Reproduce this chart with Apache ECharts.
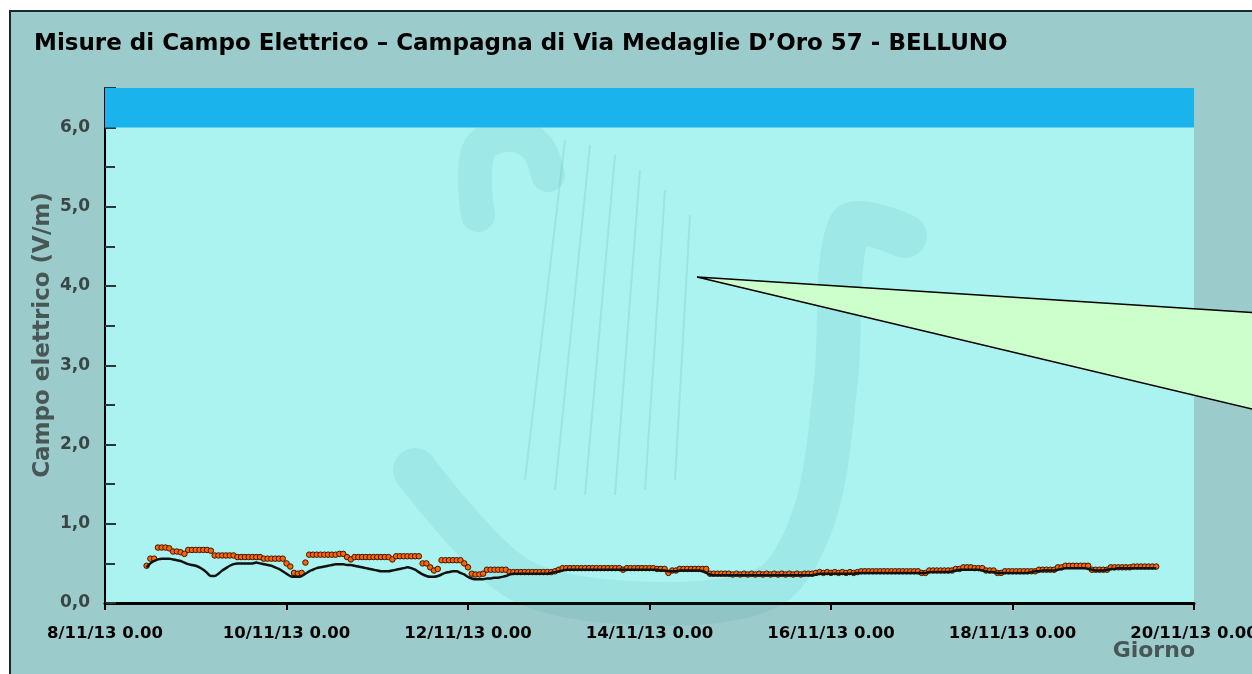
<!DOCTYPE html>
<html>
<head>
<meta charset="utf-8" />
<title>Campo Elettrico - Belluno</title>
<script src="https://cdn.jsdelivr.net/npm/echarts@6/dist/echarts.min.js"></script>
<style>
  html, body { margin: 0; padding: 0; background: #ffffff; }
  #chart { width: 1252px; height: 674px; }
</style>
</head>
<body>
<div id="chart"></div>
<script type="text/javascript">
// asse x in ore dal 8/11/13 0.00
var xTickLabels = ['8/11/13 0.00', '10/11/13 0.00', '12/11/13 0.00', '14/11/13 0.00',
    '16/11/13 0.00', '18/11/13 0.00', '20/11/13 0.00'];
var yTickLabels = ['0,0', '1,0', '2,0', '3,0', '4,0', '5,0', '6,0'];

// prima misura alle ore 11 del 8/11, poi una ogni ora
var firstHour = 11;

// misure (punti arancio), V/m
var misure = [
    0.47, 0.56, 0.56, 0.70, 0.70, 0.70, 0.69, 0.65, 0.65, 0.64,
    0.62, 0.67, 0.67, 0.67, 0.67, 0.67, 0.67, 0.66, 0.60, 0.60,
    0.60, 0.60, 0.60, 0.60, 0.58, 0.58, 0.58, 0.58, 0.58, 0.58,
    0.58, 0.56, 0.56, 0.56, 0.56, 0.56, 0.56, 0.50, 0.46, 0.38,
    0.37, 0.38, 0.51, 0.61, 0.61, 0.61, 0.61, 0.61, 0.61, 0.61,
    0.61, 0.62, 0.62, 0.58, 0.55, 0.58, 0.58, 0.58, 0.58, 0.58,
    0.58, 0.58, 0.58, 0.58, 0.58, 0.55, 0.59, 0.59, 0.59, 0.59,
    0.59, 0.59, 0.59, 0.50, 0.50, 0.45, 0.41, 0.43, 0.54, 0.54,
    0.54, 0.54, 0.54, 0.54, 0.50, 0.45, 0.37, 0.36, 0.36, 0.37,
    0.42, 0.42, 0.42, 0.42, 0.42, 0.42, 0.39, 0.39, 0.39, 0.39,
    0.39, 0.39, 0.39, 0.39, 0.39, 0.39, 0.39, 0.39, 0.40, 0.42,
    0.44, 0.44, 0.44, 0.44, 0.44, 0.44, 0.44, 0.44, 0.44, 0.44,
    0.44, 0.44, 0.44, 0.44, 0.44, 0.44, 0.42, 0.44, 0.44, 0.44,
    0.44, 0.44, 0.44, 0.44, 0.44, 0.43, 0.43, 0.43, 0.38, 0.41,
    0.41, 0.43, 0.43, 0.43, 0.43, 0.43, 0.43, 0.43, 0.43, 0.37,
    0.37, 0.37, 0.37, 0.37, 0.37, 0.36, 0.37, 0.36, 0.37, 0.36,
    0.37, 0.36, 0.37, 0.36, 0.37, 0.36, 0.37, 0.36, 0.37, 0.36,
    0.37, 0.36, 0.37, 0.36, 0.37, 0.37, 0.37, 0.38, 0.39, 0.38,
    0.39, 0.38, 0.39, 0.38, 0.39, 0.38, 0.39, 0.38, 0.39, 0.40,
    0.40, 0.40, 0.40, 0.40, 0.40, 0.40, 0.40, 0.40, 0.40, 0.40,
    0.40, 0.40, 0.40, 0.40, 0.40, 0.38, 0.38, 0.41, 0.41, 0.41,
    0.41, 0.41, 0.41, 0.41, 0.43, 0.43, 0.45, 0.45, 0.45, 0.44,
    0.44, 0.44, 0.41, 0.41, 0.41, 0.38, 0.38, 0.40, 0.40, 0.40,
    0.40, 0.40, 0.40, 0.40, 0.40, 0.40, 0.42, 0.42, 0.42, 0.42,
    0.42, 0.45, 0.45, 0.47, 0.47, 0.47, 0.47, 0.47, 0.47, 0.47,
    0.42, 0.42, 0.42, 0.42, 0.42, 0.45, 0.45, 0.45, 0.45, 0.45,
    0.45, 0.46, 0.46, 0.46, 0.46, 0.46, 0.46, 0.46
];

// andamento medio (linea nera), V/m
var media = [
    0.45, 0.50, 0.53, 0.55, 0.56, 0.56, 0.56, 0.55, 0.54, 0.53,
    0.51, 0.49, 0.48, 0.47, 0.45, 0.42, 0.38, 0.34, 0.34, 0.37,
    0.41, 0.44, 0.47, 0.49, 0.50, 0.50, 0.50, 0.50, 0.50, 0.51,
    0.50, 0.49, 0.48, 0.47, 0.45, 0.43, 0.40, 0.37, 0.34, 0.33,
    0.33, 0.34, 0.37, 0.40, 0.42, 0.44, 0.45, 0.46, 0.47, 0.48,
    0.49, 0.49, 0.49, 0.48, 0.48, 0.47, 0.46, 0.45, 0.44, 0.43,
    0.42, 0.41, 0.40, 0.40, 0.40, 0.41, 0.42, 0.43, 0.44, 0.45,
    0.44, 0.42, 0.39, 0.36, 0.34, 0.33, 0.33, 0.34, 0.36, 0.38,
    0.39, 0.40, 0.40, 0.38, 0.36, 0.33, 0.31, 0.30, 0.30, 0.30,
    0.31, 0.31, 0.32, 0.32, 0.33, 0.34, 0.36, 0.37, 0.37, 0.37,
    0.37, 0.37, 0.37, 0.37, 0.37, 0.37, 0.37, 0.38, 0.39, 0.40,
    0.41, 0.42, 0.42, 0.42, 0.42, 0.42, 0.42, 0.42, 0.42, 0.42,
    0.42, 0.42, 0.42, 0.42, 0.42, 0.42, 0.42, 0.42, 0.42, 0.42,
    0.42, 0.42, 0.42, 0.42, 0.42, 0.42, 0.41, 0.41, 0.40, 0.40,
    0.40, 0.41, 0.41, 0.41, 0.41, 0.41, 0.41, 0.40, 0.38, 0.36,
    0.35, 0.35, 0.35, 0.35, 0.35, 0.35, 0.35, 0.35, 0.35, 0.35,
    0.35, 0.35, 0.35, 0.35, 0.35, 0.35, 0.35, 0.35, 0.35, 0.35,
    0.35, 0.35, 0.35, 0.35, 0.35, 0.35, 0.35, 0.36, 0.37, 0.37,
    0.37, 0.37, 0.37, 0.37, 0.37, 0.37, 0.37, 0.37, 0.38, 0.38,
    0.38, 0.38, 0.38, 0.38, 0.38, 0.38, 0.38, 0.38, 0.38, 0.38,
    0.38, 0.38, 0.38, 0.38, 0.38, 0.38, 0.38, 0.39, 0.39, 0.39,
    0.39, 0.39, 0.39, 0.40, 0.41, 0.42, 0.42, 0.42, 0.42, 0.42,
    0.42, 0.41, 0.40, 0.39, 0.39, 0.38, 0.38, 0.38, 0.38, 0.38,
    0.38, 0.38, 0.38, 0.38, 0.39, 0.40, 0.40, 0.41, 0.41, 0.41,
    0.41, 0.42, 0.43, 0.44, 0.44, 0.44, 0.44, 0.44, 0.44, 0.43,
    0.42, 0.41, 0.41, 0.41, 0.42, 0.43, 0.43, 0.44, 0.44, 0.44,
    0.44, 0.44, 0.44, 0.44, 0.44, 0.44, 0.44, 0.44
];

var puntiMisure = [], puntiMedia = [];
for (var i = 0; i < misure.length; i++) {
    puntiMisure.push([firstHour + i, misure[i]]);
}
for (var j = 0; j < media.length; j++) {
    puntiMedia.push([firstHour + j, media[j]]);
}

var filigrana = 'rgba(0,110,110,0.07)';

// filigrana: arpa (corde)
var corde = [[565, 140, 525, 480], [590, 145, 555, 490], [615, 155, 585, 495],
    [640, 170, 615, 495], [665, 190, 645, 490], [690, 215, 675, 480]];

var grafica = [{
    type: 'rect',
    z: -10,
    shape: { x: 10, y: 11, width: 1260, height: 680 },
    style: { fill: '#9ccbcb', stroke: '#1b2828', lineWidth: 2 }
}, {
    type: 'text',
    left: 34,
    top: 33,
    style: {
        text: 'Misure di Campo Elettrico \u2013 Campagna di Via Medaglie D\u2019Oro 57 - BELLUNO',
        font: 'bold 23px "DejaVu Sans", sans-serif',
        fill: '#000000'
    }
}, {
    type: 'text',
    x: 43,
    y: 335,
    rotation: Math.PI / 2,
    style: {
        text: 'Campo elettrico (V/m)',
        font: 'bold 23px "DejaVu Sans", sans-serif',
        fill: '#485656',
        align: 'center',
        verticalAlign: 'middle'
    }
}, {
    type: 'text',
    x: 1195,
    y: 640,
    z: 50,
    style: {
        text: 'Giorno',
        font: 'bold 22px "DejaVu Sans", sans-serif',
        fill: '#485656',
        align: 'right',
        verticalAlign: 'top'
    }
}, {
    type: 'polyline',
    z: 1,
    silent: true,
    shape: {
        points: [[905, 236], [850, 226], [836, 380], [816, 510], [772, 585], [660, 604], [520, 580], [415, 470]],
        smooth: 0.3
    },
    style: { fill: 'none', stroke: filigrana, lineWidth: 44, lineCap: 'round', lineJoin: 'round' }
}, {
    type: 'polyline',
    z: 1,
    silent: true,
    shape: {
        points: [[478, 215], [478, 152], [505, 135], [535, 145], [548, 175]],
        smooth: 0.4
    },
    style: { fill: 'none', stroke: filigrana, lineWidth: 34, lineCap: 'round', lineJoin: 'round' }
}];

for (var k = 0; k < corde.length; k++) {
    grafica.push({
        type: 'line',
        z: 1,
        silent: true,
        shape: { x1: corde[k][0], y1: corde[k][1], x2: corde[k][2], y2: corde[k][3] },
        style: { stroke: 'rgba(0,110,110,0.10)', lineWidth: 2 }
    });
}

// fumetto verde
grafica.push({
    type: 'polygon',
    z: 100,
    shape: { points: [[697, 277], [1260, 313], [1260, 411]] },
    style: { fill: '#ccffcc', stroke: '#000000', lineWidth: 1.5 }
});

var myChart = echarts.init(document.getElementById('chart'));

myChart.setOption({
    backgroundColor: '#ffffff',
    animation: false,
    graphic: grafica,
    grid: {
        left: 105,
        right: 58,
        top: 88,
        bottom: 71,
        outerBoundsMode: 'none',
        show: true,
        backgroundColor: '#aaf3f0',
        borderWidth: 0
    },
    xAxis: {
        type: 'value',
        min: 0,
        max: 288,
        interval: 48,
        splitLine: { show: false },
        axisLine: { lineStyle: { color: '#000000', width: 3 } },
        axisTick: { show: true, length: 7, lineStyle: { color: '#000000', width: 2 } },
        axisLabel: {
            color: '#000000',
            fontSize: 16.5,
            fontWeight: 'bold',
            fontFamily: 'DejaVu Sans',
            margin: 22,
            formatter: function (v) {
                return xTickLabels[v / 48] || '';
            }
        }
    },
    yAxis: {
        type: 'value',
        min: 0,
        max: 6.5,
        interval: 1,
        splitLine: { show: false },
        axisLine: { lineStyle: { color: '#000000', width: 2 } },
        axisTick: { show: true, inside: true, length: 11, lineStyle: { color: '#2a3838', width: 2 } },
        minorTick: { show: true, splitNumber: 2, length: 10, lineStyle: { color: '#2a3838', width: 2 } },
        axisLabel: {
            color: '#3a4646',
            fontSize: 17,
            fontWeight: 'bold',
            fontFamily: 'DejaVu Sans',
            margin: 15,
            showMaxLabel: false,
            formatter: function (v) {
                return Number.isInteger(v) ? yTickLabels[v] : '';
            }
        }
    },
    series: [{
        name: 'media',
        type: 'line',
        data: puntiMedia,
        showSymbol: false,
        smooth: 0.3,
        lineStyle: { color: '#111111', width: 2.5 },
        markArea: {
            silent: true,
            itemStyle: { color: '#1bb3ec' },
            data: [[{ yAxis: 6 }, { yAxis: 6.5 }]]
        }
    }, {
        name: 'misure',
        type: 'scatter',
        data: puntiMisure,
        symbol: 'circle',
        symbolSize: 5.5,
        itemStyle: { color: '#ff6400', borderColor: '#3a1800', borderWidth: 1, opacity: 1 }
    }]
});
</script>
</body>
</html>
